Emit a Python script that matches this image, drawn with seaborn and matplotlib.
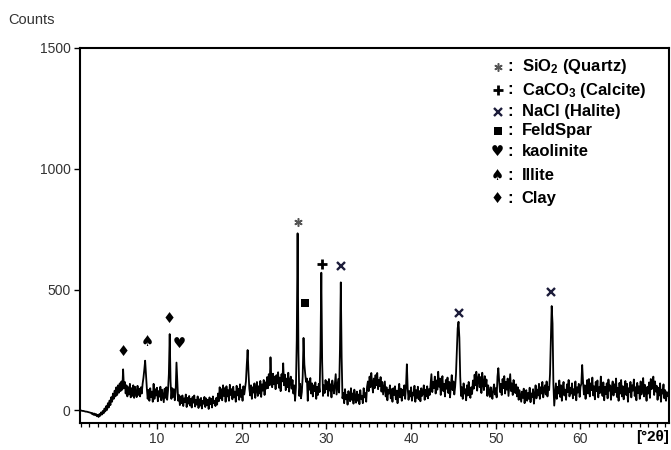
import numpy as np
import matplotlib
matplotlib.use("Agg")
import matplotlib.pyplot as plt
from matplotlib.ticker import MultipleLocator, FixedLocator
import seaborn as sns

# ---------------------------------------------------------------------------
# XRD scan: counts sampled every 0.1 degree 2-theta, starting at 1.0 degree
# ---------------------------------------------------------------------------
theta_start = 1.0
theta_step = 0.1
counts = [
    0, -1, -2, -2, -3, -4, -5, -5, -6, -7,                 # 1.x
    -8, -9, -10, -14, -11, -18, -13, -20, -15, -24,        # 2.x
    -18, -27, -15, -22, -8, -17, -2, -12, 8, -4,           # 3.x
    18, 2, 30, 12, 41, 22, 55, 36, 70, 48,                 # 4.x
    82, 58, 96, 64, 104, 73, 112, 80, 120, 86,             # 5.x
    170, 92, 118, 70, 104, 58, 96, 66, 110, 54,            # 6.x
    92, 60, 104, 52, 98, 71, 55, 102, 64, 90,              # 7.x
    58, 96, 70, 110, 135, 168, 206, 150, 92, 48,           # 8.x
    85, 40, 92, 55, 78, 36, 110, 48, 88, 62,               # 9.x
    94, 38, 80, 57, 98, 42, 86, 60, 34, 90,                # 10.x
    52, 96, 44, 82, 150, 316, 120, 48, 92, 56,             # 11.x
    88, 42, 76, 198, 120, 40, 64, 22, 58, 30,              # 12.x
    62, 18, 50, 34, 66, 14, 52, 28, 60, 20,                # 13.x
    48, 12, 56, 32, 62, 16, 44, 24, 58, 10,                # 14.x
    46, 20, 52, 8, 40, 28, 56, 14, 50, 22,                 # 15.x
    44, 6, 54, 26, 48, 12, 58, 30, 40, 18,                 # 16.x
    52, 24, 70, 38, 96, 50, 88, 42, 104, 60,               # 17.x
    92, 36, 100, 58, 84, 40, 106, 64, 88, 46,              # 18.x
    98, 54, 78, 36, 102, 62, 90, 44, 108, 56,              # 19.x
    84, 40, 100, 66, 92, 120, 190, 250, 160, 90,           # 20.x
    62, 104, 48, 96, 74, 112, 52, 90, 118, 60,             # 21.x
    100, 70, 122, 56, 108, 82, 126, 64, 116, 90,           # 22.x
    138, 92, 150, 104, 220, 130, 96, 152, 108, 140,        # 23.x
    88, 146, 112, 158, 94, 136, 80, 150, 120, 195,         # 24.x
    104, 148, 84, 132, 96, 156, 78, 124, 140, 90,          # 25.x
    126, 70, 104, 40, 95, 290, 733, 240, 60, 110,          # 26.x
    50, 76, 140, 300, 190, 150, 118, 132, 40, 120,         # 27.x
    86, 134, 70, 112, 58, 104, 80, 116, 48, 98,            # 28.x
    64, 110, 76, 250, 570, 200, 60, 104, 72, 126,          # 29.x
    88, 118, 60, 130, 82, 108, 54, 124, 94, 70,            # 30.x
    112, 150, 66, 100, 130, 74, 250, 530, 220, 50,         # 31.x
    72, 30, 88, 46, 64, 24, 80, 52, 38, 92,                # 32.x
    44, 70, 28, 86, 56, 32, 78, 40, 66, 26,                # 33.x
    84, 48, 60, 30, 92, 54, 72, 36, 98, 120,               # 34.x
    80, 140, 96, 155, 110, 74, 132, 92, 146, 104,          # 35.x
    155, 88, 126, 100, 138, 78, 118, 66, 94, 120,          # 36.x
    58, 96, 42, 84, 70, 104, 50, 88, 36, 92,               # 37.x
    64, 100, 46, 82, 30, 76, 110, 54, 90, 40,              # 38.x
    86, 62, 104, 48, 100, 191, 90, 44, 80, 58,             # 39.x
    96, 40, 74, 62, 102, 36, 84, 52, 98, 46,               # 40.x
    80, 38, 92, 60, 72, 104, 44, 86, 58, 100,              # 41.x
    50, 88, 64, 106, 150, 76, 118, 92, 140, 70,            # 42.x
    124, 86, 160, 98, 132, 64, 116, 142, 80, 110,          # 43.x
    58, 126, 90, 136, 72, 118, 54, 104, 146, 84,           # 44.x
    120, 66, 98, 150, 250, 340, 367, 300, 140, 60,         # 45.x
    96, 48, 112, 70, 88, 42, 104, 62, 118, 76,             # 46.x
    52, 96, 68, 124, 90, 148, 104, 160, 82, 130,           # 47.x
    150, 96, 138, 72, 156, 112, 84, 142, 100, 128,         # 48.x
    60, 104, 78, 56, 96, 70, 48, 88, 108, 66,              # 49.x
    92, 54, 140, 175, 120, 76, 110, 64, 130, 92,           # 50.x
    142, 70, 118, 86, 132, 60, 104, 150, 80, 112,          # 51.x
    64, 126, 90, 72, 108, 58, 96, 44, 84, 60,              # 52.x
    36, 78, 52, 90, 30, 66, 84, 40, 72, 48,                # 53.x
    94, 34, 70, 56, 88, 28, 62, 104, 50, 86,               # 54.x
    62, 110, 48, 96, 70, 118, 54, 88, 104, 66,             # 55.x
    120, 58, 96, 84, 150, 300, 432, 360, 110, 20,          # 56.x
    64, 112, 48, 98, 70, 124, 56, 104, 40, 90,             # 57.x
    118, 62, 86, 44, 108, 76, 126, 58, 94, 70,             # 58.x
    112, 50, 88, 64, 120, 42, 96, 74, 110, 56,             # 59.x
    98, 110, 188, 120, 66, 104, 48, 92, 126, 70,           # 60.x
    130, 58, 112, 84, 136, 62, 100, 46, 118, 80,           # 61.x
    124, 54, 96, 72, 140, 88, 60, 116, 42, 98,             # 62.x
    68, 112, 50, 128, 82, 104, 44, 96, 120, 62,            # 63.x
    108, 76, 132, 56, 94, 40, 114, 70, 126, 58,            # 64.x
    100, 46, 88, 122, 64, 110, 36, 92, 76, 118,            # 65.x
    54, 104, 82, 128, 60, 96, 42, 114, 72, 100,            # 66.x
    48, 120, 66, 92, 134, 58, 106, 80, 40, 98,             # 67.x
    70, 116, 52, 130, 88, 110, 140, 64, 120, 78,           # 68.x
    102, 44, 94, 62, 112, 36, 86, 70, 108, 50,             # 69.x
    84, 40, 76, 60,                                        # 70.x
]
two_theta = theta_start + theta_step * np.arange(len(counts))

# axis ticks
x_major_ticks = [10, 20, 30, 40, 50, 60]
y_major_ticks = [0, 500, 1000, 1500]

# phase identification marks placed above the reflections
mark_theta = [6.0, 8.9, 11.4, 12.6, 26.65, 27.5, 29.45, 31.7, 45.6, 56.5]
mark_counts = [242, 285, 380, 278, 781, 446, 605, 598, 402, 491]
mark_phase = ["clay", "illite", "clay", "kaolinite", "quartz", "feldspar",
              "calcite", "halite", "halite", "halite"]

# key of phases
key_phases = ["quartz", "calcite", "halite", "feldspar", "kaolinite", "illite", "clay"]
key_names = ["SiO$_2$ (Quartz)", "CaCO$_3$ (Calcite)", "NaCl (Halite)",
             "FeldSpar", "kaolinite", "Illite", "Clay"]

# ---------------------------------------------------------------------------
sns.set_theme(style="ticks")
plt.rcParams["font.family"] = ["Liberation Sans", "DejaVu Sans"]
plt.rcParams["mathtext.fontset"] = "custom"
plt.rcParams["mathtext.bf"] = "Liberation Sans:bold"
plt.rcParams["mathtext.rm"] = "Liberation Sans:bold"
plt.rcParams["mathtext.default"] = "bf"

W, H = 671, 450
fig = plt.figure(figsize=(W / 100, H / 100), dpi=100)
fig.patch.set_facecolor("white")
ax_l, ax_r, ax_t, ax_b = 79.5, 669.0, 48.0, 423.0
ax = fig.add_axes([ax_l / W, 1 - ax_b / H, (ax_r - ax_l) / W, (ax_b - ax_t) / H])
ax.set_facecolor("white")

sns.lineplot(x=two_theta, y=counts, ax=ax, color="black", linewidth=1.3,
             sort=False, estimator=None)

ax.xaxis.set_major_locator(FixedLocator(x_major_ticks))
ax.xaxis.set_minor_locator(MultipleLocator(1))
ax.yaxis.set_major_locator(FixedLocator(y_major_ticks))
ax.set_xlabel("")
ax.set_ylabel("")

for side in ["left", "right", "top", "bottom"]:
    ax.spines[side].set_visible(True)
    ax.spines[side].set_linewidth(1.5)
    ax.spines[side].set_color("black")

ax.tick_params(axis="both", which="major", direction="out", length=4.5, width=1.0,
               color="black", labelsize=10, labelcolor="#333333", pad=2)
ax.tick_params(axis="x", which="minor", direction="out", length=2.6, width=0.9,
               color="black")
ax.tick_params(axis="y", which="minor", left=False)

SUITS = {"clay": "\u2666", "illite": "\u2660", "kaolinite": "\u2665"}
MARKERS = {
    "quartz": dict(marker=(6, 2, 0), markersize=6, markeredgewidth=1.1,
                   color="#555555"),
    "calcite": dict(marker="+", markersize=7, markeredgewidth=2.0, color="black"),
    "halite": dict(marker="x", markersize=5.5, markeredgewidth=1.7, color="#1c1c3a"),
    "feldspar": dict(marker="s", markersize=5.5, markeredgewidth=0, color="black"),
}


def draw_symbol(phase, x, y, transform):
    if phase in SUITS:
        ax.text(x, y, SUITS[phase], transform=transform, ha="center", va="center",
                fontsize=10.5, family="DejaVu Sans", color="black", clip_on=False)
    else:
        ax.plot([x], [y], transform=transform, linestyle="none", clip_on=False,
                **MARKERS[phase])


for th, c, ph in zip(mark_theta, mark_counts, mark_phase):
    draw_symbol(ph, th, c, ax.transData)

# key in the upper right
row_y = [66.7, 90.0, 111.7, 130.7, 151.0, 175.0, 198.3]
for ph, name, py in zip(key_phases, key_names, row_y):
    fy = 1 - py / H
    draw_symbol(ph, 497.5 / W, fy, fig.transFigure)
    fig.text(510 / W, fy, ":", ha="center", va="center", fontsize=12,
             fontweight="bold", color="black")
    fig.text(521.5 / W, fy, name, ha="left", va="center", fontsize=12,
             fontweight="bold", color="black")

fig.text(8 / W, 1 - 20 / H, "Counts", ha="left", va="center", fontsize=10.5,
         color="#333333")
fig.text(669 / W, 1 - 437 / H, "[°2θ]", ha="right", va="center", fontsize=11,
         fontweight="bold", color="black")

ax.set_xlim(0.85, 70.45)
ax.set_ylim(-52, 1500)
fig.savefig("out.png", dpi=100, facecolor="white")
